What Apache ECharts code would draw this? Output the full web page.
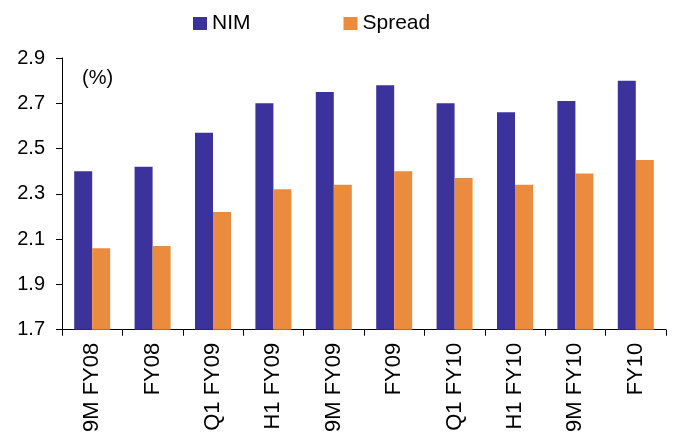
<!DOCTYPE html>
<html>
<head>
<meta charset="utf-8">
<script src="https://cdn.jsdelivr.net/npm/echarts@6/dist/echarts.min.js"></script>
<style>
  html, body { margin: 0; padding: 0; background: #fff; }
  #chart { width: 675px; height: 435px; }
</style>
</head>
<body>
<div id="chart"></div>
<script>
// Periods on the category axis
const periods = ['9M FY08', 'FY08', 'Q1 FY09', 'H1 FY09', '9M FY09', 'FY09', 'Q1 FY10', 'H1 FY10', '9M FY10', 'FY10'];
// Net interest margin (%)
const nim = [2.40, 2.42, 2.57, 2.70, 2.75, 2.78, 2.70, 2.66, 2.71, 2.80];
// Spread (%)
const spread = [2.06, 2.07, 2.22, 2.32, 2.34, 2.40, 2.37, 2.34, 2.39, 2.45];
// Value-axis ticks
const yTicks = [1.7, 1.9, 2.1, 2.3, 2.5, 2.7, 2.9];

const FONT = '"Liberation Sans", Arial, sans-serif';
const chart = echarts.init(document.getElementById('chart'), null, { renderer: 'canvas' });

chart.setOption({
  animation: false,
  backgroundColor: '#ffffff',
  textStyle: { fontFamily: FONT, color: '#000' },
  legend: {
    left: 188,
    top: 8,
    itemWidth: 14,
    itemHeight: 13,
    itemGap: 93,
    icon: 'rect',
    textStyle: { fontFamily: FONT, fontSize: 21, color: '#000' },
    data: ['NIM', 'Spread']
  },
  graphic: [{
    type: 'text',
    left: 82,
    top: 68,
    style: { text: '(%)', fontFamily: FONT, fontSize: 20, fill: '#000' }
  }],
  grid: { left: 62, right: 9, top: 58, bottom: 105, containLabel: false },
  xAxis: {
    type: 'category',
    data: periods,
    boundaryGap: true,
    axisLine: { lineStyle: { color: '#000', width: 1 } },
    axisTick: { show: true, length: 6, lineStyle: { color: '#000' } },
    axisLabel: { rotate: 90, margin: 13, fontFamily: FONT, fontSize: 22, color: '#000' }
  },
  yAxis: {
    type: 'value',
    min: 1.7,
    max: 2.9,
    axisLine: { show: true, lineStyle: { color: '#000', width: 1 } },
    axisTick: { show: true, length: 6, lineStyle: { color: '#000' }, customValues: yTicks },
    axisLabel: {
      customValues: yTicks,
      margin: 17,
      fontFamily: FONT,
      fontSize: 20,
      color: '#000',
      formatter: v => v.toFixed(1)
    },
    splitLine: { show: false }
  },
  series: [
    {
      name: 'NIM',
      type: 'bar',
      data: nim,
      barWidth: 18,
      barGap: '0%',
      itemStyle: { color: '#3b339b' }
    },
    {
      name: 'Spread',
      type: 'bar',
      data: spread,
      barWidth: 18,
      barGap: '0%',
      itemStyle: { color: '#eb8b3e' }
    }
  ]
});
</script>
</body>
</html>
